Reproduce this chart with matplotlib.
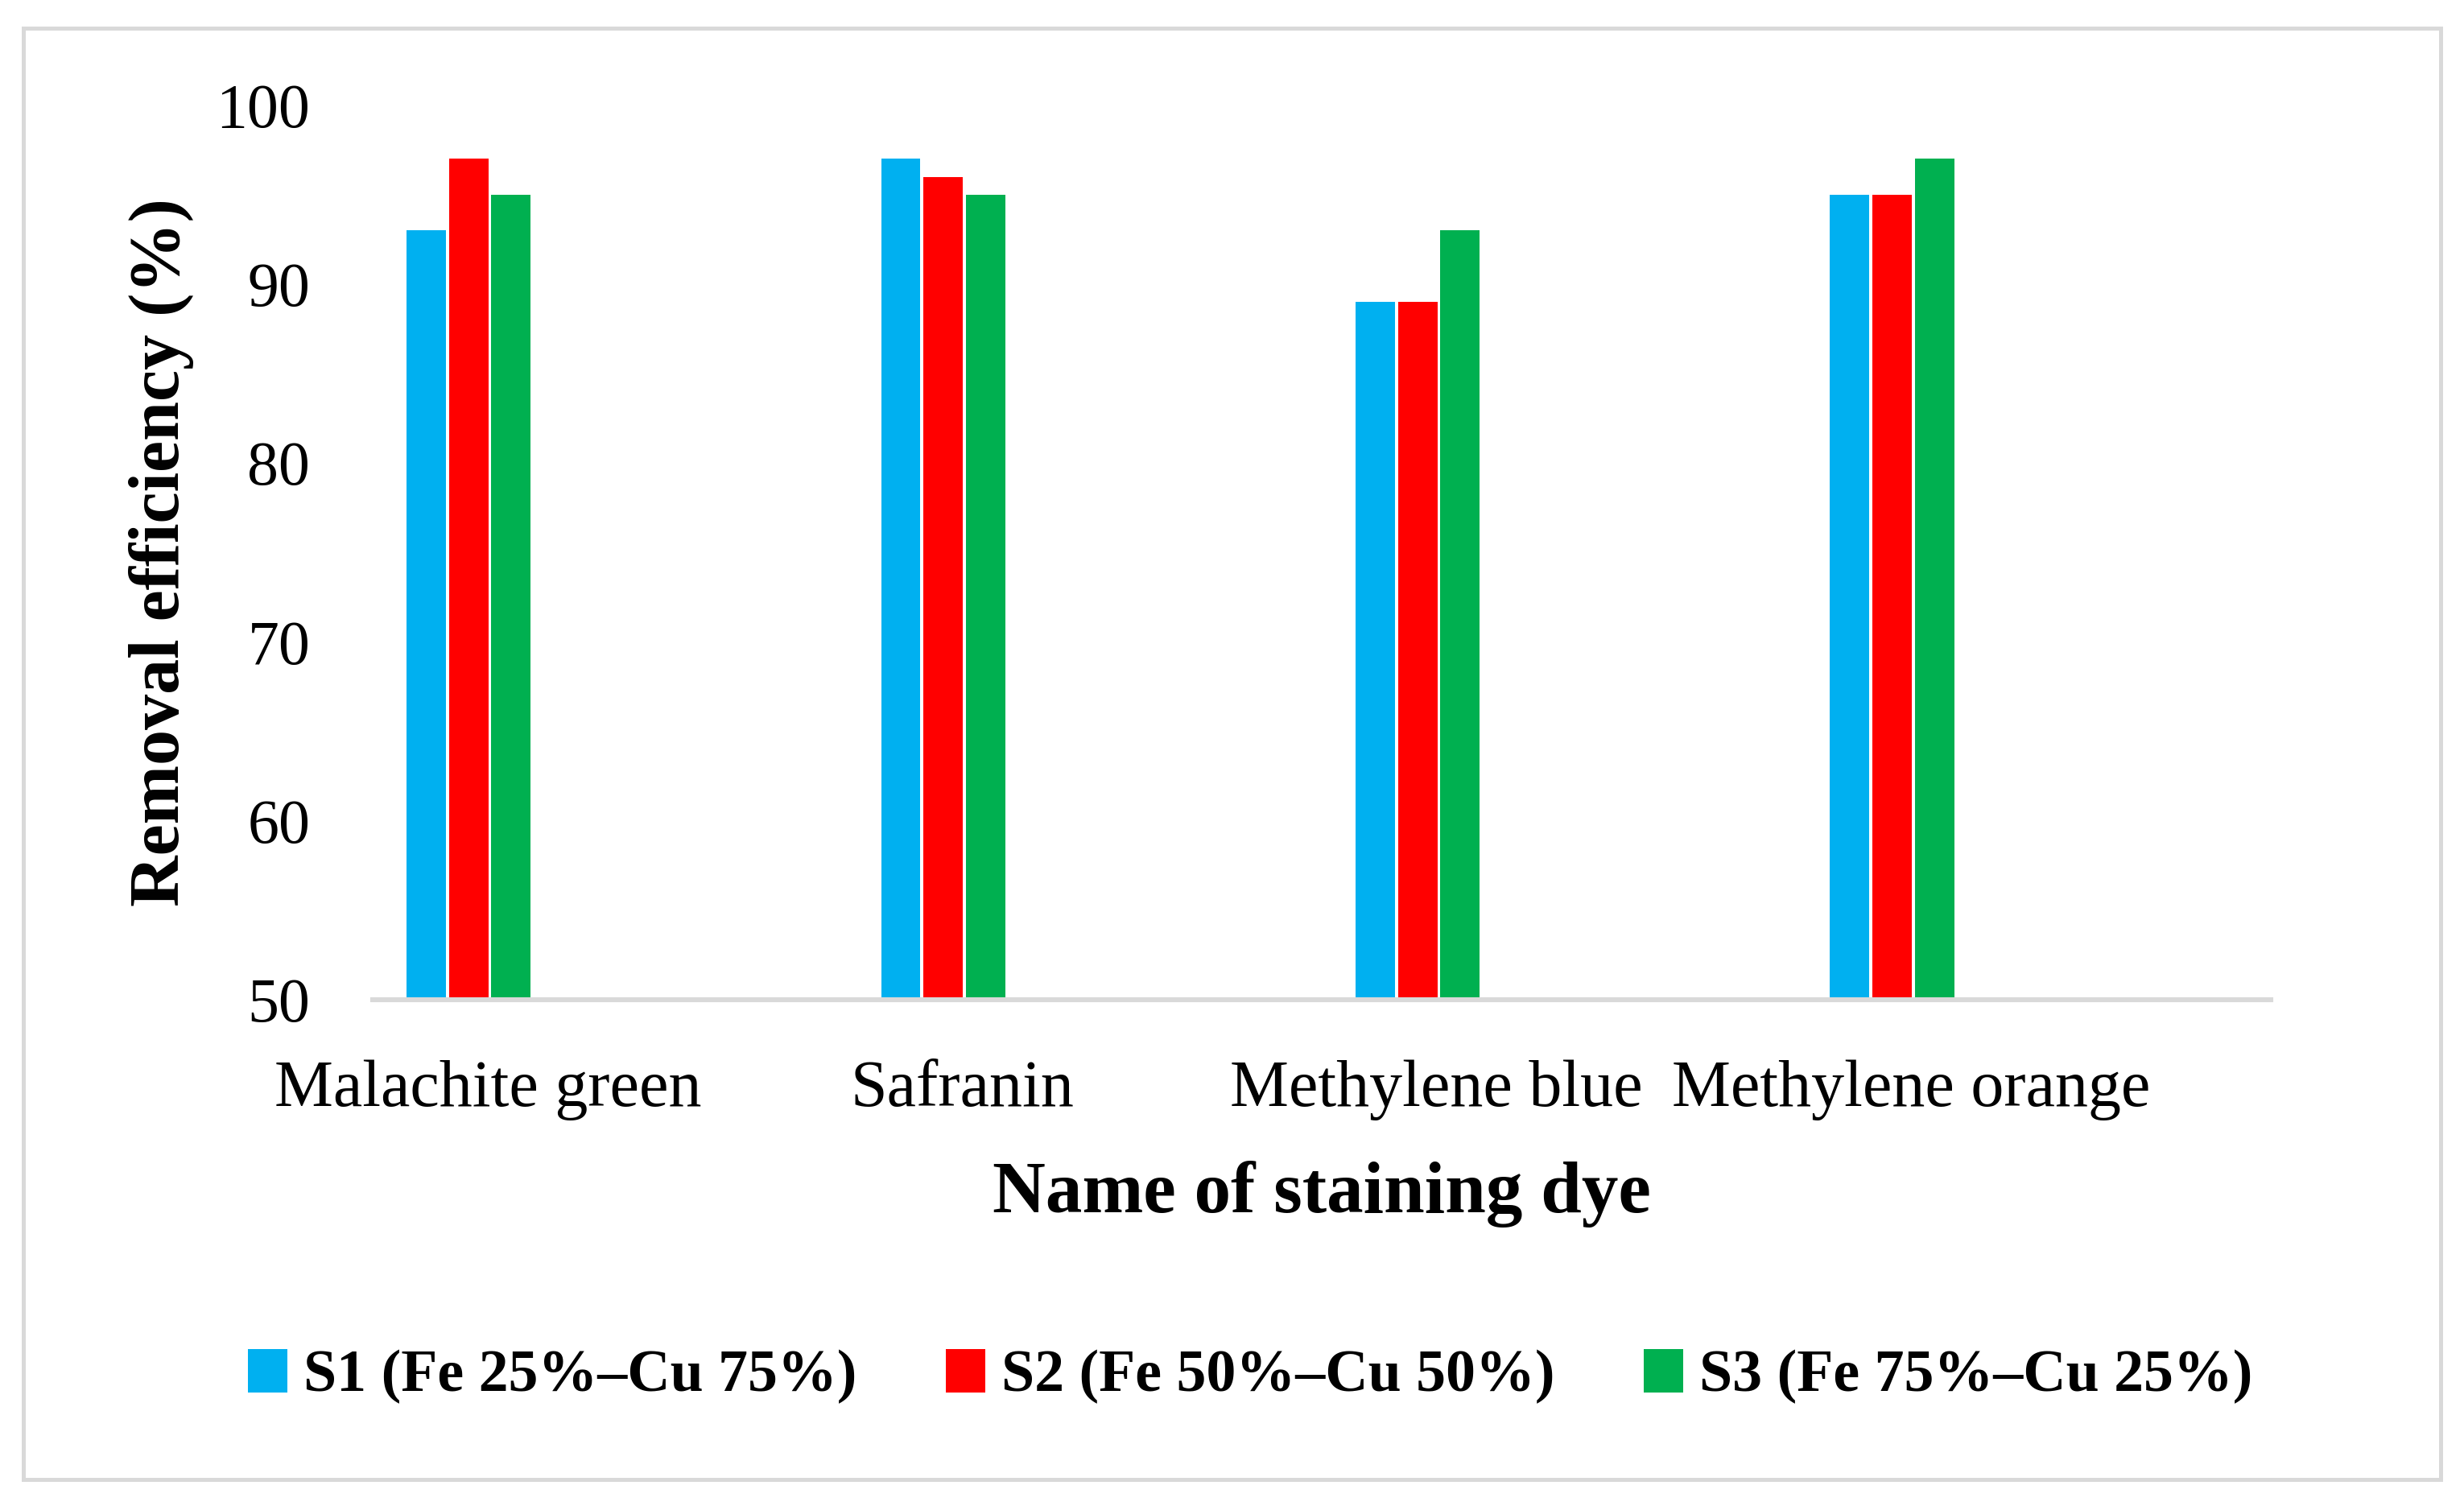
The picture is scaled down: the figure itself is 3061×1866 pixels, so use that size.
import matplotlib
matplotlib.use("Agg")
import matplotlib.pyplot as plt
import numpy as np
from matplotlib.patches import Rectangle, Patch

categories = ["Malachite green", "Safranin", "Methylene blue", "Methylene orange"]
series_names = ["S1 (Fe 25%\u2013Cu 75%)", "S2 (Fe 50%\u2013Cu 50%)", "S3 (Fe 75%\u2013Cu 25%)"]
s1 = [93, 97, 89, 95]
s2 = [97, 96, 89, 95]
s3 = [95, 95, 93, 97]
colors = ["#00B0F0", "#FF0000", "#00B050"]
yticks = [50, 60, 70, 80, 90, 100]

plt.rcParams['font.family'] = ['Liberation Serif', 'DejaVu Serif']

fig = plt.figure(figsize=(15.305, 9.33), dpi=200)
ax = fig.add_axes([0.1513, 0.3346, 0.7703, 0.5953])

x = np.arange(len(categories))
pitch = 0.0894
width = 0.083
for k, vals in enumerate([s1, s2, s3]):
    ax.bar(x + (k - 1) * pitch, np.array(vals) - 50, width=width, bottom=50,
           color=colors[k], linewidth=0, zorder=2)

ax.set_xlim(-0.202, 3.798)
ax.set_ylim(50, 100)
ax.set_yticks(yticks)
ax.set_yticklabels([str(v) for v in yticks], fontsize=28)
ax.set_xticks(x + 0.04)
ax.set_xticklabels(categories, fontsize=29.5)
ax.tick_params(axis='y', length=0, pad=28)
ax.tick_params(axis='x', length=0, pad=27)
for s in ['top', 'right', 'left']:
    ax.spines[s].set_visible(False)
ax.spines['bottom'].set_color('#D9D9D9')
ax.spines['bottom'].set_linewidth(2.2)
ax.spines['bottom'].set_zorder(3)

fig.text(0.0655, 0.6323, "Removal efficiency (%)", rotation=90, ha='center', va='center',
         fontsize=31.7, fontweight='bold')
fig.text(0.5365, 1 - 773 * 1.948 / 1866, "Name of staining dye", ha='center', va='baseline',
         fontsize=32.8, fontweight='bold')

handles = [Patch(facecolor=c, edgecolor='none') for c in colors]
fig.legend(handles, series_names, loc='center', bbox_to_anchor=(0.5075, 0.0835), ncol=3,
           frameon=False, prop={'size': 26.6, 'weight': 'bold'}, handlelength=0.66,
           handleheight=0.74, handletextpad=0.27, columnspacing=1.5, borderpad=0)

fig.add_artist(Rectangle((29 / 3061, 1 - 1838 / 1866), (3032 - 29) / 3061, (1838 - 35) / 1866,
                         transform=fig.transFigure, fill=False, edgecolor='#D9D9D9', linewidth=1.8))

fig.savefig("out.png", dpi=200, facecolor='white')
